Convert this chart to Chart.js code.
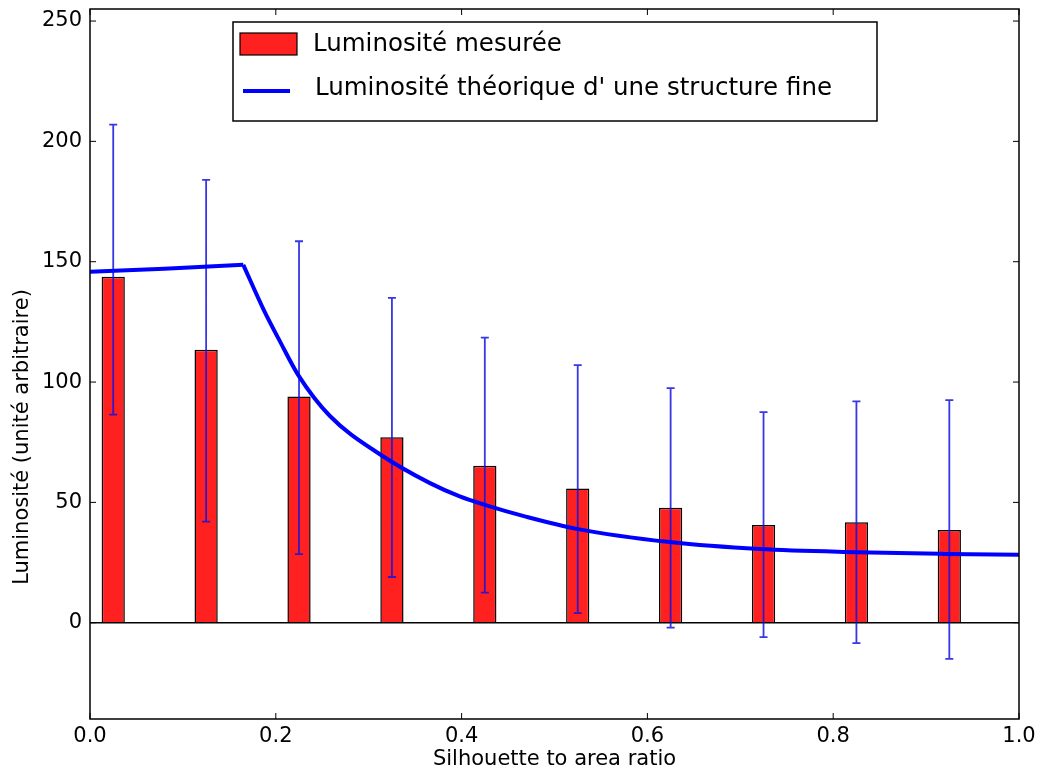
<!DOCTYPE html>
<html>
<head>
<meta charset="utf-8">
<script src="https://cdn.jsdelivr.net/npm/chart.js@4.4.0/dist/chart.umd.min.js"></script>
<style>
html, body { margin: 0; padding: 0; background: #fff; }
#wrap { width: 1038px; height: 774px; }
</style>
</head>
<body>
<div id="wrap"><canvas id="lumChart"></canvas></div>
<script>
Chart.defaults.font.family = "'DejaVu Sans', sans-serif";
Chart.defaults.font.size = 21;
Chart.defaults.color = '#000';

// measured luminosity per silhouette/area bin
const ratios = [0.025, 0.125, 0.225, 0.325, 0.425, 0.525, 0.625, 0.725, 0.825, 0.925];
const measured = [143.8, 113.4, 94, 77.1, 65.2, 55.8, 47.8, 40.6, 41.8, 38.5];
const errHigh = [207, 184, 158.5, 135, 118.5, 107, 97.5, 87.5, 92, 92.5];
const errLow = [86.5, 42, 28.5, 19, 12.5, 4, -2, -6, -8.5, -15];

// theoretical curve
const curveX = [0, 0.08, 0.165, 0.187, 0.205, 0.224, 0.258, 0.312, 0.366, 0.398, 0.425, 0.47, 0.524, 0.624, 0.721, 0.825, 0.92, 1.0];
const curveY = [145.8, 147.1, 148.7, 130, 116.5, 103, 86, 70, 58, 52.5, 49, 44, 39, 33.5, 30.6, 29.3, 28.6, 28.2];
const peakIdx = 2;

const labelMeasured = 'Luminosité mesurée';
const labelTheory = "Luminosité théorique d' une structure fine";
const yTitle = 'Luminosité (unité arbitraire)';

const barColor = '#ff2020';
const lineColor = '#0000ff';

const curvePts = curveX.map((x, i) => ({x: x, y: curveY[i]}));

const errorBars = {
    id: 'errorBars',
    afterDatasetDraw(chart, args) {
        if (args.index !== 0) return;
        const {ctx, scales: {x, y}} = chart;
        ctx.save();
        ctx.strokeStyle = 'rgba(20,20,225,0.85)';
        ctx.lineWidth = 1.8;
        ctx.beginPath();
        ratios.forEach((r, i) => {
            const px = x.getPixelForValue(r);
            const top = y.getPixelForValue(errHigh[i]);
            const bot = y.getPixelForValue(errLow[i]);
            ctx.moveTo(px, top); ctx.lineTo(px, bot);
            ctx.moveTo(px - 4, top); ctx.lineTo(px + 4, top);
            ctx.moveTo(px - 4, bot); ctx.lineTo(px + 4, bot);
        });
        ctx.stroke();
        ctx.restore();
    }
};

const frame = {
    id: 'frame',
    afterDraw(chart) {
        const {ctx, chartArea: a, scales: {x, y}} = chart;
        ctx.save();
        ctx.strokeStyle = '#000';
        ctx.lineWidth = 1;
        ctx.beginPath();
        x.ticks.forEach(t => {
            const px = x.getPixelForValue(t.value);
            ctx.moveTo(px, a.bottom); ctx.lineTo(px, a.bottom - 6);
            ctx.moveTo(px, a.top); ctx.lineTo(px, a.top + 6);
        });
        y.ticks.forEach(t => {
            const py = y.getPixelForValue(t.value);
            ctx.moveTo(a.left, py); ctx.lineTo(a.left + 6, py);
            ctx.moveTo(a.right, py); ctx.lineTo(a.right - 6, py);
        });
        ctx.stroke();
        ctx.lineWidth = 1.5;
        ctx.strokeRect(a.left, a.top, a.right - a.left, a.bottom - a.top);

        // y axis title, sitting lower than centre as in the original
        ctx.translate(23, 437);
        ctx.rotate(-Math.PI / 2);
        ctx.fillStyle = '#000';
        ctx.font = "21px 'DejaVu Sans'";
        ctx.textAlign = 'center';
        ctx.textBaseline = 'middle';
        ctx.fillText(yTitle, 0, 0);
        ctx.restore();
    }
};

// boxed legend inside the plot, like matplotlib's
const boxLegend = {
    id: 'boxLegend',
    afterDraw(chart, args, opts) {
        const {ctx, chartArea: a} = chart;
        const bx = a.left + opts.left, by = a.top + opts.top;
        ctx.save();
        ctx.fillStyle = '#fff';
        ctx.fillRect(bx, by, opts.width, opts.height);
        ctx.strokeStyle = '#000';
        ctx.lineWidth = 1.5;
        ctx.strokeRect(bx, by, opts.width, opts.height);

        ctx.fillStyle = barColor;
        ctx.fillRect(bx + 7, by + 11, 57, 22);
        ctx.lineWidth = 1.2;
        ctx.strokeRect(bx + 7, by + 11, 57, 22);

        ctx.strokeStyle = lineColor;
        ctx.lineWidth = 4;
        ctx.beginPath();
        ctx.moveTo(bx + 10, by + 69); ctx.lineTo(bx + 57, by + 69);
        ctx.stroke();

        ctx.fillStyle = '#000';
        ctx.font = "24.5px 'DejaVu Sans'";
        ctx.textBaseline = 'middle';
        ctx.fillText(labelMeasured, bx + 80, by + 23);
        ctx.fillText(labelTheory, bx + 82, by + 67);
        ctx.restore();
    }
};

new Chart(document.getElementById('lumChart'), {
    type: 'bar',
    data: {
        datasets: [{
            label: labelMeasured,
            data: ratios.map((r, i) => ({x: r, y: measured[i]})),
            backgroundColor: barColor,
            borderColor: '#000',
            borderWidth: 1.5,
            barPercentage: 0.25,
            categoryPercentage: 1,
            order: 2
        }, {
            type: 'line',
            label: labelTheory,
            data: curvePts.slice(0, peakIdx + 1),
            borderColor: lineColor,
            borderWidth: 4,
            pointRadius: 0,
            tension: 0,
            order: 1
        }, {
            type: 'line',
            label: labelTheory,
            data: curvePts.slice(peakIdx),
            borderColor: lineColor,
            borderWidth: 4,
            pointRadius: 0,
            cubicInterpolationMode: 'monotone',
            order: 1
        }]
    },
    options: {
        responsive: true,
        maintainAspectRatio: false,
        animation: false,
        layout: {padding: {top: 9, right: 19, left: 0, bottom: 0}},
        scales: {
            x: {
                type: 'linear',
                min: 0,
                max: 1,
                offset: false,
                ticks: {stepSize: 0.2, padding: 5, callback: v => v.toFixed(1)},
                grid: {display: false, drawTicks: false},
                border: {display: false},
                title: {display: true, text: 'Silhouette to area ratio', padding: {top: 0, bottom: 2}},
                afterFit: s => { s.height = 55; s.paddingLeft = 0; s.paddingRight = 0; }
            },
            y: {
                min: -40,
                max: 255,
                ticks: {stepSize: 50, includeBounds: false, padding: 8},
                grid: {
                    drawTicks: false,
                    lineWidth: 1.5,
                    color: c => (c.tick && c.tick.value === 0) ? '#000' : 'rgba(0,0,0,0)'
                },
                border: {display: false},
                title: {display: false},
                afterFit: s => { s.width = 90; s.paddingTop = 0; s.paddingBottom = 0; }
            }
        },
        plugins: {
            legend: {display: false},
            tooltip: {enabled: false},
            boxLegend: {left: 143, top: 13, width: 644, height: 99}
        }
    },
    plugins: [errorBars, frame, boxLegend]
});
</script>
</body>
</html>
